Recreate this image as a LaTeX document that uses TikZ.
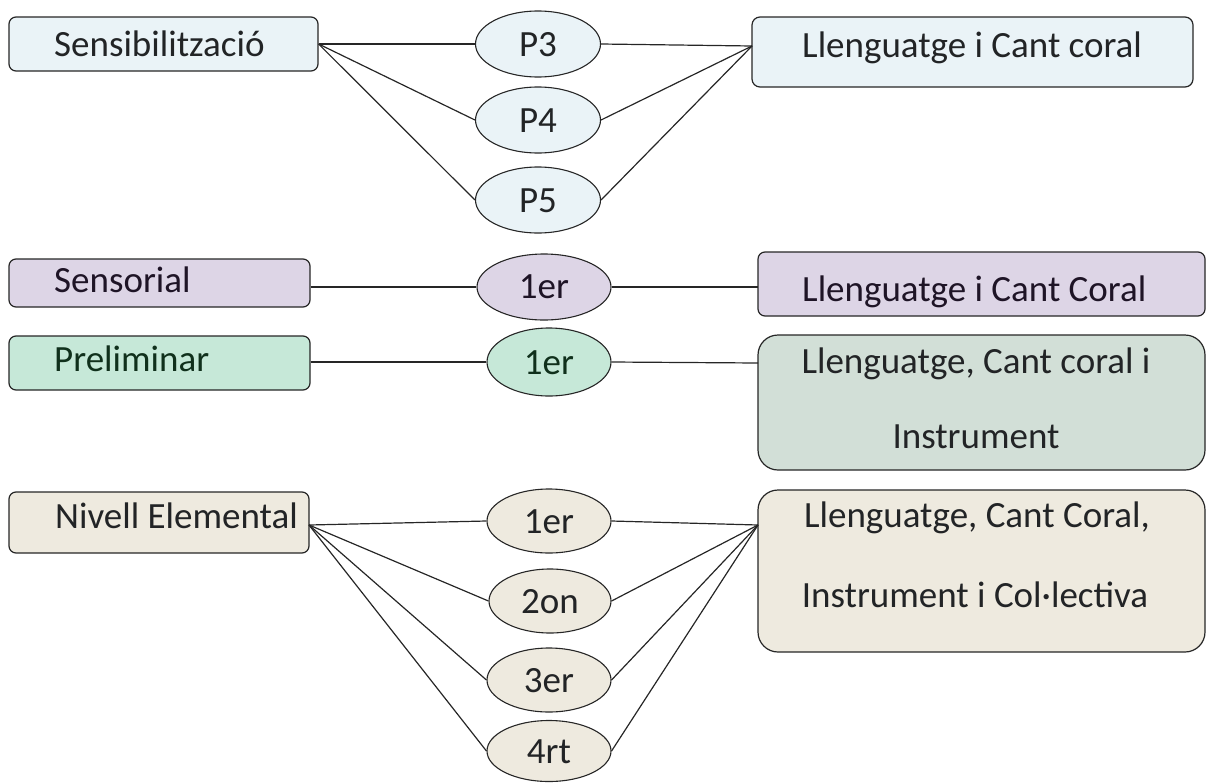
\documentclass[tikz,border=0pt]{standalone}
\usepackage{fontspec}
\setmainfont{Carlito}
\usetikzlibrary{shapes.geometric}
\definecolor{cblue}{HTML}{EAF3F7}
\definecolor{cpurple}{HTML}{DDD5E6}
\definecolor{cgreen}{HTML}{C6E8D8}
\definecolor{cgreenb}{HTML}{D2DFD7}
\definecolor{cbeige}{HTML}{EEEADF}
\definecolor{ctext}{HTML}{222426}
\definecolor{cgtext}{HTML}{10301C}
\definecolor{cptext}{HTML}{1E1426}
\tikzset{
  lbox/.style={draw=black!85, rounded corners=7pt, line width=1.2pt, inner sep=0pt},
  rbox/.style={draw=black!85, rounded corners=20pt, line width=1.2pt, inner sep=0pt},
  ell/.style={draw=black!85, ellipse, line width=1.1pt, inner sep=0pt},
  con/.style={draw=black!85, line width=1.2pt},
  txt/.style={font=\fontsize{37}{40}\selectfont, inner sep=0pt, text=ctext}
}
\begin{document}
\begin{tikzpicture}[x=1pt,y=-1pt]
\useasboundingbox (0,0) rectangle (1207,782);

% ---------- row 1 ----------
\node[lbox, fill=cblue, minimum width=309pt, minimum height=54pt] (sens) at (163.5,44) {};
\node[txt, anchor=base west] (sensT) at (54,56) {Sensibilització};
\node[ell, fill=cblue, minimum width=125pt, minimum height=66pt] (p3) at (538,44) {};
\node[ell, fill=cblue, minimum width=125pt, minimum height=66pt] (p4) at (538,120) {};
\node[ell, fill=cblue, minimum width=125pt, minimum height=66pt] (p5) at (538,200) {};
\node[txt, anchor=base] (p3T) at (538,56) {P3};
\node[txt, anchor=base] (p4T) at (538,132) {P4};
\node[txt, anchor=base] (p5T) at (538,212) {P5};
\node[rbox, rounded corners=8pt, fill=cblue, minimum width=441pt, minimum height=70pt] (r1) at (972.5,52) {};
\node[txt, anchor=base west] (r1T) at (802,57) {Llenguatge i Cant coral};
\coordinate (r1in) at (752,46);
\draw[con] (sens.east) -- (p3.west);
\draw[con] (sens.east) -- (p4.west);
\draw[con] (sens.east) -- (p5.west);
\draw[con] (p3.east) -- (r1in);
\draw[con] (p4.east) -- (r1in);
\draw[con] (p5.east) -- (r1in);

% ---------- row 2 ----------
\node[lbox, fill=cpurple, minimum width=301pt, minimum height=48pt] (sensor) at (159.5,283) {};
\node[txt, anchor=base west, text=cptext] (sensorT) at (54,292) {Sensorial};
\node[ell, fill=cpurple, minimum width=134pt, minimum height=66pt] (e2) at (544,287) {};
\node[txt, anchor=base, text=cptext] (e2T) at (544,298) {1er};
\node[rbox, rounded corners=7pt, fill=cpurple, minimum width=447pt, minimum height=64pt] (r2) at (981.5,284) {};
\node[txt, anchor=base west, text=cptext] (r2T) at (802,301) {Llenguatge i Cant Coral};
\coordinate (r2in) at (758,287);
\draw[con] (sensor.east |- e2) -- (e2.west);
\draw[con] (e2.east) -- (r2in);

% ---------- row 3 ----------
\node[lbox, fill=cgreen, minimum width=301pt, minimum height=54pt] (prel) at (159.5,363) {};
\node[txt, anchor=base west, text=cgtext] (prelT) at (54,371) {Preliminar};
\node[ell, fill=cgreen, minimum width=124pt, minimum height=68pt] (e3) at (549,362) {};
\node[txt, anchor=base, text=cgtext] (e3T) at (549,374) {1er};
\node[rbox, fill=cgreenb, minimum width=447pt, minimum height=135pt] (r3) at (981.5,402.5) {};
\node[txt, anchor=base] (r3T1) at (976,373) {Llenguatge, Cant coral i};
\node[txt, anchor=base] (r3T2) at (976,448) {Instrument};
\coordinate (r3in) at (758,363);
\draw[con] (prel.east |- e3) -- (e3.west);
\draw[con] (e3.east) -- (r3in);

% ---------- row 4 ----------
\node[lbox, fill=cbeige, minimum width=300pt, minimum height=61pt] (niv) at (159,522.5) {};
\node[txt, anchor=base west] (nivT) at (55,528) {Nivell Elemental};
\coordinate (nivout) at (309,525);
\node[ell, fill=cbeige, minimum width=124pt, minimum height=64pt] (n1) at (549,521) {};
\node[ell, fill=cbeige, minimum width=122pt, minimum height=64pt] (n2) at (550,601) {};
\node[ell, fill=cbeige, minimum width=124pt, minimum height=64pt] (n3) at (549,680) {};
\node[ell, fill=cbeige, minimum width=124pt, minimum height=61pt] (n4) at (549,751) {};
\node[txt, anchor=base] (n1T) at (549,533) {1er};
\node[txt, anchor=base] (n2T) at (550,613) {2on};
\node[txt, anchor=base] (n3T) at (549,692) {3er};
\node[txt, anchor=base] (n4T) at (549,763) {4rt};
\node[rbox, fill=cbeige, minimum width=447pt, minimum height=162pt] (r4) at (981.5,571) {};
\node[txt, anchor=base] (r4T1) at (977,527) {Llenguatge, Cant Coral,};
\node[txt, anchor=base] (r4T2) at (975,607) {Instrument i Col·lectiva};
\coordinate (r4in) at (758,525);
\draw[con] (nivout) -- (n1.west);
\draw[con] (nivout) -- (n2.west);
\draw[con] (nivout) -- (n3.west);
\draw[con] (nivout) -- (n4.west);
\draw[con] (n1.east) -- (r4in);
\draw[con] (n2.east) -- (r4in);
\draw[con] (n3.east) -- (r4in);
\draw[con] (n4.east) -- (r4in);
\end{tikzpicture}
\end{document}
